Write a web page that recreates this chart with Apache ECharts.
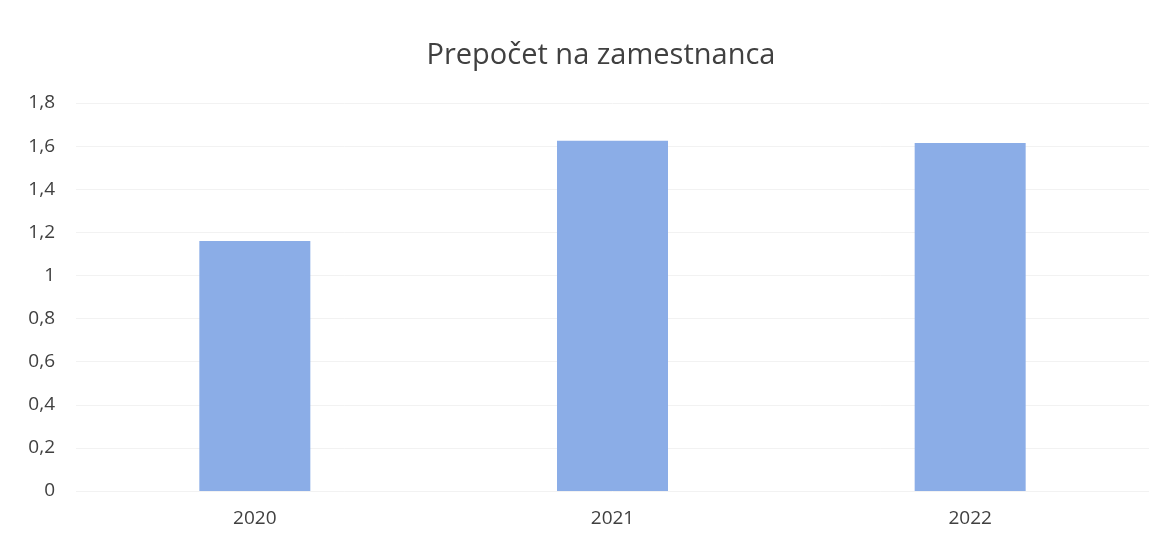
<!DOCTYPE html>
<html><head><meta charset="utf-8">
<script src="https://cdn.jsdelivr.net/npm/echarts@6/dist/echarts.min.js"></script>
<style>html,body{margin:0;padding:0;background:#fff}#c{width:1170px;height:546px}</style>
</head><body><div id="c"></div>
<script>
const categories = ['2020', '2021', '2022'];
const values = [1.16, 1.625, 1.615];
const chart = echarts.init(document.getElementById('c'));
chart.setOption({
  animation: false,
  backgroundColor: '#fff',
  title: {
    text: 'Prepočet na zamestnanca',
    left: 596, top: 36, textAlign: 'center',
    textStyle: { fontFamily: 'Open Sans', fontSize: 29, fontWeight: 'normal', color: '#404040' }
  },
  grid: { left: 76, right: 21, top: 103, bottom: 55 },
  xAxis: {
    type: 'category', data: categories,
    axisLine: { show: false }, axisTick: { show: false },
    axisLabel: { fontFamily: 'Open Sans', fontSize: 19, color: '#404040', margin: 18 }
  },
  yAxis: {
    type: 'value', min: 0, max: 1.8, interval: 0.2,
    axisLabel: { fontFamily: 'Open Sans', fontSize: 19, color: '#404040', margin: 21,
      formatter: v => String(Math.round(v * 10) / 10).replace('.', ',') },
    splitLine: { lineStyle: { color: '#f2f2f2', width: 1 } },
    axisLine: { show: false }, axisTick: { show: false }
  },
  series: [{
    type: 'bar', data: values, barWidth: 111,
    itemStyle: { color: '#8badE7' }
  }]
});
</script></body></html>
